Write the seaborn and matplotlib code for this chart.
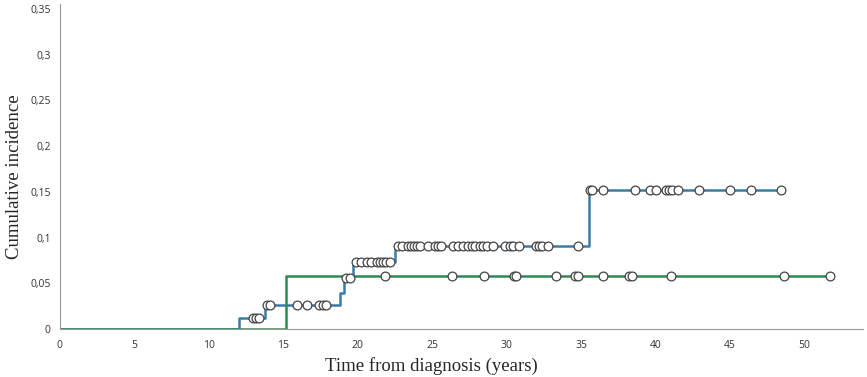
import numpy as np
import pandas as pd
import seaborn as sns
import matplotlib
matplotlib.use("Agg")
import matplotlib.pyplot as plt
from matplotlib.ticker import FuncFormatter

# step curves: event times and cumulative incidence after each step
blue_times = [0, 12.0, 13.8, 18.8, 19.1, 19.7, 22.5, 35.55, 48.4]
blue_values = [0, 0.012, 0.026, 0.040, 0.056, 0.073, 0.091, 0.152, 0.152]
green_times = [0, 15.2, 51.7]
green_values = [0, 0.058, 0.058]

# censored observations (years)
blue_censored = [13.0, 13.2, 13.4, 13.9, 14.1, 15.9, 16.6, 17.4, 17.7, 17.9,
                 19.2, 19.45, 19.9, 20.2, 20.6, 20.9, 21.3, 21.5, 21.7, 21.9, 22.2,
                 22.7, 23.0, 23.4, 23.6, 23.8, 24.0, 24.2, 24.7, 25.2, 25.4, 25.6,
                 26.4, 26.7, 27.1, 27.4, 27.7, 27.9, 28.2, 28.4, 28.7, 29.1, 29.9,
                 30.2, 30.4, 30.8, 32.0, 32.2, 32.4, 32.8, 34.8, 35.6, 35.7, 36.5,
                 38.6, 39.6, 40.0, 40.7, 40.9, 41.1, 41.5, 42.9, 45.0, 46.4, 48.4]
green_censored = [21.8, 26.3, 28.5, 30.5, 30.6, 33.3, 34.6, 34.8, 36.5, 38.2,
                  38.4, 41.0, 48.6, 51.7]

x_ticks = [0, 5, 10, 15, 20, 25, 30, 35, 40, 45, 50]
y_ticks = [0, 0.05, 0.1, 0.15, 0.2, 0.25, 0.3, 0.35]

BLUE = "#3b7ca6"
GREEN = "#2e8a52"


def step_value(times, values, t):
    idx = np.searchsorted(times, t, side="right") - 1
    return np.asarray(values)[idx]


curves = pd.DataFrame({
    "time": blue_times + green_times,
    "ci": blue_values + green_values,
    "group": ["blue"] * len(blue_times) + ["green"] * len(green_times),
})
cens = pd.DataFrame({
    "time": blue_censored + green_censored,
    "ci": list(step_value(blue_times, blue_values, blue_censored))
          + list(step_value(green_times, green_values, green_censored)),
    "group": ["blue"] * len(blue_censored) + ["green"] * len(green_censored),
})

sns.set_style("white")
fig = plt.figure(figsize=(8.67, 3.77), dpi=100)
ax = fig.add_axes([0.069, 0.127, 0.926, 0.863])

sns.lineplot(data=curves, x="time", y="ci", hue="group",
             palette={"blue": BLUE, "green": GREEN}, drawstyle="steps-post",
             linewidth=1.8, legend=False, ax=ax, zorder=2)
sns.scatterplot(data=cens, x="time", y="ci", marker="o", s=40,
                color="white", edgecolor="#444444", linewidth=0.9,
                legend=False, ax=ax, zorder=3)

ax.set_xlim(0, 53.9)
ax.set_ylim(0, 0.3555)
ax.set_xticks(x_ticks)
ax.set_yticks(y_ticks)
ax.yaxis.set_major_formatter(FuncFormatter(
    lambda v, p: "0" if v == 0 else f"{v:g}".replace(".", ",")))
ax.tick_params(direction="inout", length=5, width=0.7, color="#999999",
               labelsize=7.5, labelcolor="#333333", pad=4)
ax.tick_params(axis="x", pad=5.5)
for lab in ax.get_xticklabels() + ax.get_yticklabels():
    lab.set_family("Open Sans")

for side in ["top", "right"]:
    ax.spines[side].set_visible(False)
for side in ["left", "bottom"]:
    ax.spines[side].set_color("#999999")
    ax.spines[side].set_linewidth(0.8)

ax.set_xlabel("Time from diagnosis (years)", family="Liberation Serif",
              fontsize=13.5)
ax.set_ylabel("Cumulative incidence", family="Liberation Serif",
              fontsize=13.5)
ax.xaxis.set_label_coords(0.463, -0.086)
ax.yaxis.set_label_coords(-0.046, 0.47)

fig.savefig("out.png", dpi=100)
